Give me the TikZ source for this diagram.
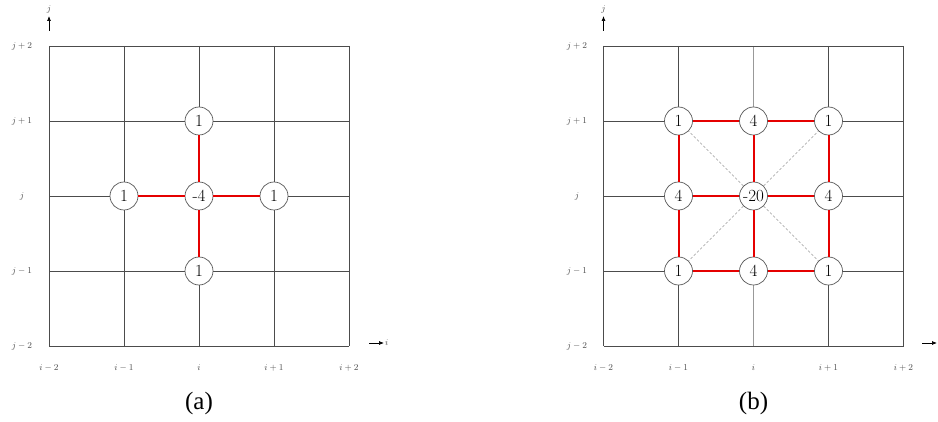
\documentclass[tikz,border=0pt]{standalone}
\usepackage{fontspec}
\newfontfamily\capfont{Liberation Serif}
\usetikzlibrary{arrows.meta}
\begin{document}
\begin{tikzpicture}[x=1pt,y=-1pt,
  gridline/.style={draw=black!70,line width=0.7pt},
  gridlight/.style={draw=black!40,line width=0.7pt},
  pt/.style={circle,draw=black!65,fill=white,line width=0.7pt,minimum size=28pt,inner sep=0pt,font=\fontsize{17}{19}\selectfont},
  redline/.style={draw=red!90!black,line width=2pt},
  diag/.style={draw=black!40,line width=0.6pt,dash pattern=on 2.5pt off 2pt},
  lab/.style={font=\fontsize{9}{10}\selectfont,text=black!70,inner sep=0pt},
  axis/.style={draw=black,line width=0.7pt,-{Latex[length=5pt,width=4pt]}},
  captext/.style={font=\capfont\fontsize{25}{28}\selectfont,inner sep=0pt}]
\useasboundingbox[fill=white] (0,0) rectangle (938,422);
% ---------- panel (a) ----------
\foreach \k in {0,...,4}{
  \draw[gridline] (49+75*\k,46) -- (49+75*\k,346);
  \draw[gridline] (49,46+75*\k) -- (349,46+75*\k);
}
\node[lab] (ar2) at (22,46) {$j+2$};
\node[lab] (ar1) at (22,121) {$j+1$};
\node[lab] (ar0) at (22,196) {$j$};
\node[lab] (arm1) at (22,271) {$j-1$};
\node[lab] (arm2) at (22,346) {$j-2$};
\node[lab] (acm2) at (49,368) {$i-2$};
\node[lab] (acm1) at (124,368) {$i-1$};
\node[lab] (ac0) at (199,368) {$i$};
\node[lab] (ac1) at (274,368) {$i+1$};
\node[lab] (ac2) at (349,368) {$i+2$};
\coordinate (ajs) at (49,31);
\coordinate (aje) at (49,16);
\draw[axis] (ajs) -- (aje);
\node[lab] (aj) at (49,9) {$j$};
\coordinate (ais) at (369,343);
\coordinate (aie) at (384,343);
\draw[axis] (ais) -- (aie);
\node[lab,anchor=west] (ai) at (385,343) {$i$};
\node[pt] (aC) at (199,196) {-4};
\node[pt] (aN) at (199,121) {1};
\node[pt] (aS) at (199,271) {1};
\node[pt] (aW) at (124,196) {1};
\node[pt] (aE) at (274,196) {1};
\draw[redline] (aC) -- (aN);
\draw[redline] (aC) -- (aS);
\draw[redline] (aC) -- (aW);
\draw[redline] (aC) -- (aE);
\node[captext] (capa) at (199,403) {(a)};
% ---------- panel (b) ----------
\foreach \k in {0,1,3,4}{
  \draw[gridline] (603.5+75*\k,46) -- (603.5+75*\k,346);
}
\draw[gridlight] (753.5,46) -- (753.5,346);
\foreach \k in {0,...,4}{
  \draw[gridline] (603.5,46+75*\k) -- (903.5,46+75*\k);
}
\node[lab] (br2) at (577,46) {$j+2$};
\node[lab] (br1) at (577,121) {$j+1$};
\node[lab] (br0) at (577,196) {$j$};
\node[lab] (brm1) at (577,271) {$j-1$};
\node[lab] (brm2) at (577,346) {$j-2$};
\node[lab] (bcm2) at (603.5,368) {$i-2$};
\node[lab] (bcm1) at (678.5,368) {$i-1$};
\node[lab] (bc0) at (753.5,368) {$i$};
\node[lab] (bc1) at (828.5,368) {$i+1$};
\node[lab] (bc2) at (903.5,368) {$i+2$};
\coordinate (bjs) at (603.5,31);
\coordinate (bje) at (603.5,16);
\draw[axis] (bjs) -- (bje);
\node[lab] (bj) at (603.5,9) {$j$};
\coordinate (bis) at (922,343);
\coordinate (bie) at (937,343);
\draw[axis] (bis) -- (bie);
\node[pt] (bC) at (753.5,196) {-20};
\node[pt] (bNW) at (678.5,121) {1};
\node[pt] (bN) at (753.5,121) {4};
\node[pt] (bNE) at (828.5,121) {1};
\node[pt] (bW) at (678.5,196) {4};
\node[pt] (bE) at (828.5,196) {4};
\node[pt] (bSW) at (678.5,271) {1};
\node[pt] (bS) at (753.5,271) {4};
\node[pt] (bSE) at (828.5,271) {1};
\draw[diag] (bC) -- (bNW);
\draw[diag] (bC) -- (bNE);
\draw[diag] (bC) -- (bSW);
\draw[diag] (bC) -- (bSE);
\draw[redline] (bC) -- (bN);
\draw[redline] (bC) -- (bS);
\draw[redline] (bC) -- (bW);
\draw[redline] (bC) -- (bE);
\draw[redline] (bNW) -- (bN);
\draw[redline] (bN) -- (bNE);
\draw[redline] (bNE) -- (bE);
\draw[redline] (bE) -- (bSE);
\draw[redline] (bSE) -- (bS);
\draw[redline] (bS) -- (bSW);
\draw[redline] (bSW) -- (bW);
\draw[redline] (bW) -- (bNW);
\node[captext] (capb) at (753.5,403) {(b)};
\end{tikzpicture}
\end{document}
